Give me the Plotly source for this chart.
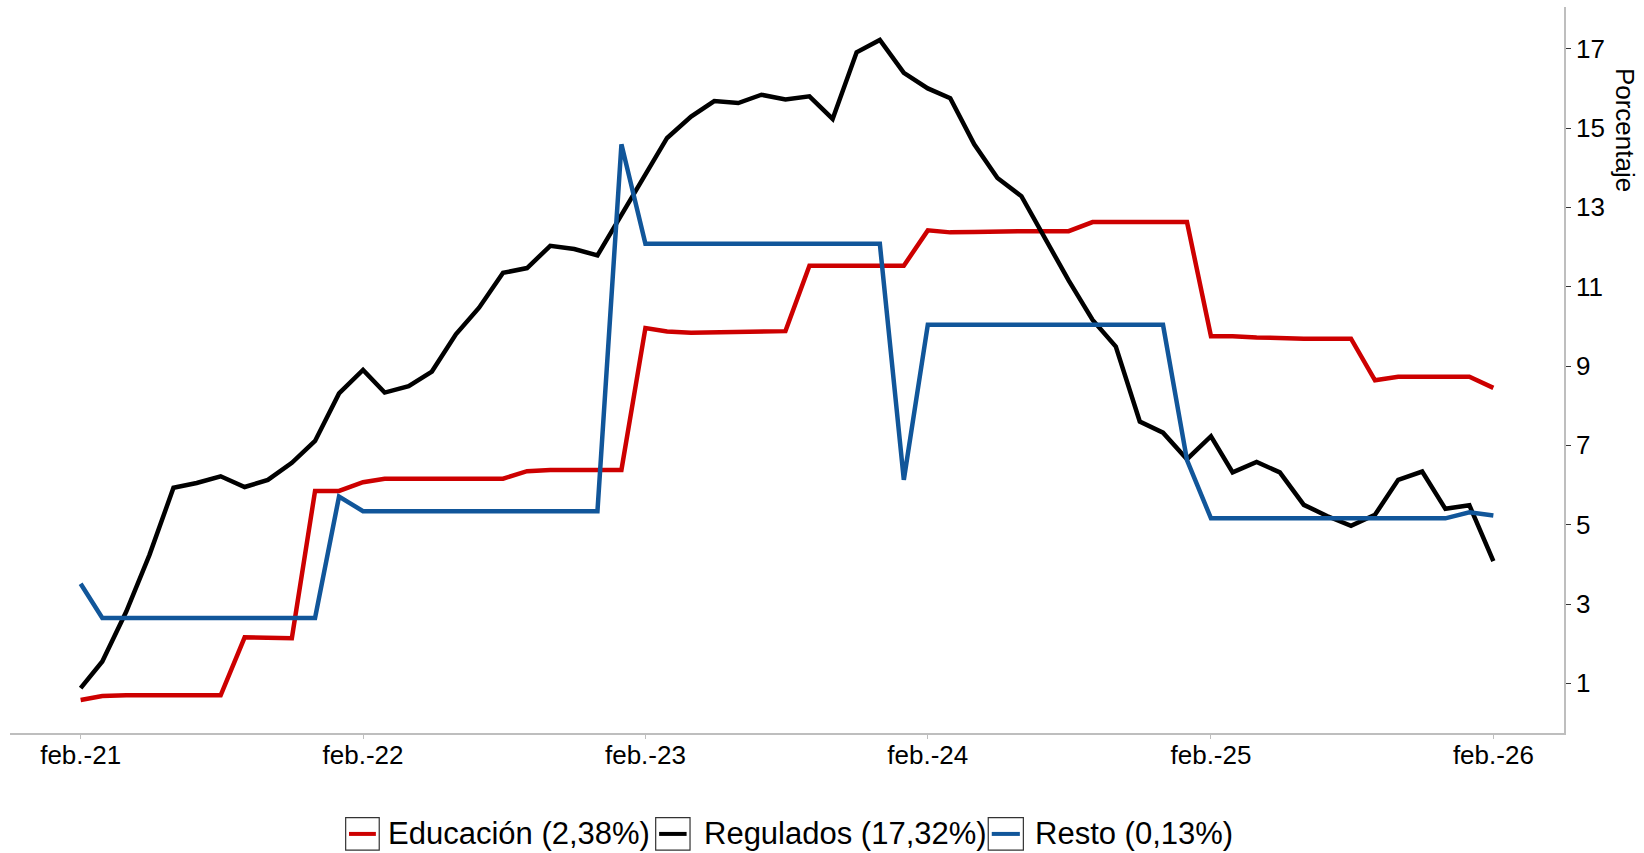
import pandas as pd
import plotly.graph_objects as go

# ---------------- data ----------------
dates = pd.date_range("2021-02-01", "2026-02-01", freq="MS")

educacion = [0.58, 0.68, 0.70, 0.70, 0.70, 0.70, 0.70, 2.16, 2.14, 2.14,
             5.85, 5.85, 6.07, 6.16, 6.16, 6.16, 6.16, 6.16, 6.16, 6.35,
             6.38, 6.38, 6.38, 6.38, 9.96, 9.87, 9.84, 9.85, 9.85, 9.86,
             9.88, 11.53, 11.53, 11.53, 11.53, 11.53, 12.42, 12.37, 12.38, 12.40,
             12.40, 12.40, 12.40, 12.63, 12.63, 12.63, 12.63, 12.63, 9.75, 9.75,
             9.72, 9.70, 9.69, 9.69, 9.69, 8.64, 8.73, 8.73, 8.73, 8.73,
             8.45]

regulados = [0.88, 1.55, 2.81, 4.24, 5.93, 6.05, 6.22, 5.95, 6.13, 6.56,
             7.11, 8.31, 8.90, 8.33, 8.49, 8.86, 9.80, 10.47, 11.35, 11.47,
             12.03, 11.95, 11.79, 12.82, 13.80, 14.75, 15.29, 15.68, 15.63, 15.84,
             15.72, 15.80, 15.23, 16.91, 17.22, 16.39, 16.00, 15.75, 14.59, 13.74,
             13.28, 12.22, 11.16, 10.16, 9.49, 7.60, 7.32, 6.65, 7.23, 6.32,
             6.58, 6.32, 5.50, 5.22, 4.97, 5.25, 6.13, 6.34, 5.40, 5.49,
             4.08]

resto = [3.51, 2.65, 2.65, 2.65, 2.65, 2.65, 2.65, 2.65, 2.65, 2.65,
         2.65, 5.71, 5.34, 5.34, 5.34, 5.34, 5.34, 5.34, 5.34, 5.34,
         5.34, 5.34, 5.34, 14.59, 12.08, 12.08, 12.08, 12.08, 12.08, 12.08,
         12.08, 12.08, 12.08, 12.08, 12.08, 6.13, 10.04, 10.04, 10.04, 10.04,
         10.04, 10.04, 10.04, 10.04, 10.04, 10.04, 10.04, 6.63, 5.16, 5.16,
         5.16, 5.16, 5.16, 5.16, 5.16, 5.16, 5.16, 5.16, 5.16, 5.31,
         5.23]

series_names = ["Educación (2,38%)", "Regulados (17,32%)", "Resto (0,13%)"]
series_colors = ["#CD0000", "#000000", "#11569A"]

x_tick_vals = pd.date_range("2021-02-01", "2026-02-01", freq="12MS")
x_tick_text = ["feb.-21", "feb.-22", "feb.-23", "feb.-24", "feb.-25", "feb.-26"]
y_tick_vals = [1, 3, 5, 7, 9, 11, 13, 15, 17]

FONT = "Liberation Sans, Arial, sans-serif"

# ---------------- figure ----------------
fig = go.Figure()
for name, vals, col in zip(series_names, [educacion, regulados, resto], series_colors):
    fig.add_trace(go.Scatter(x=dates, y=vals, mode="lines", name=name,
                             line=dict(color=col, width=4.5), showlegend=False))

span = dates[-1] - dates[0]
x_range = [dates[0] - span * 0.05, dates[-1] + span * 0.05]
all_vals = educacion + regulados + resto
ymin, ymax = min(all_vals), max(all_vals)
yr = ymax - ymin
y_range = [ymin - 0.05 * yr, ymax + 0.05 * yr]

fig.update_layout(
    width=1644, height=853,
    margin=dict(l=10, r=80, t=7, b=120),
    paper_bgcolor="white", plot_bgcolor="white",
    font=dict(family=FONT, color="#000000"),
    xaxis=dict(range=x_range, tickvals=x_tick_vals, ticktext=x_tick_text,
               showgrid=False, zeroline=False, showline=True,
               linecolor="#BEBEBE", linewidth=1.5, ticks="outside", ticklen=4,
               tickcolor="#BEBEBE", ticklabelstandoff=-6,
               tickfont=dict(size=26, color="#000000")),
    yaxis=dict(range=y_range, tickvals=y_tick_vals, side="right",
               showgrid=False, zeroline=False, showline=True,
               linecolor="#BEBEBE", linewidth=1.5, ticks="outside", ticklen=5,
               tickcolor="#333333", ticklabelstandoff=0,
               tickfont=dict(size=26, color="#000000")),
)

# y-axis title (reads top to bottom)
fig.add_annotation(text="Porcentaje", xref="paper", yref="paper",
                   x=1.0393, y=0.8306, xanchor="center", yanchor="middle",
                   showarrow=False, textangle=90,
                   font=dict(size=26, color="#000000", family=FONT))

# custom legend with boxed keys
box_x = [(0.2160, 0.2376), (0.4155, 0.4376), (0.6295, 0.6521)]
text_x = [0.2420, 0.4451, 0.6585]
for (x0, x1), tx, name, col in zip(box_x, text_x, series_names, series_colors):
    fig.add_shape(type="rect", xref="paper", yref="paper",
                  x0=x0, x1=x1, y0=-0.1612, y1=-0.1167,
                  line=dict(color="#333333", width=1.2), fillcolor="white")
    pad = (x1 - x0) * 0.1
    fig.add_shape(type="line", xref="paper", yref="paper",
                  x0=x0 + pad, x1=x1 - pad, y0=-0.1390, y1=-0.1390,
                  line=dict(color=col, width=4))
    fig.add_annotation(text=name, xref="paper", yref="paper", x=tx, y=-0.1390,
                       xanchor="left", yanchor="middle", showarrow=False,
                       font=dict(size=31, color="#000000", family=FONT))

fig.write_html("out.html", config={"displayModeBar": False},
               post_script="document.body.style.margin='0';document.body.style.overflow='hidden';")
